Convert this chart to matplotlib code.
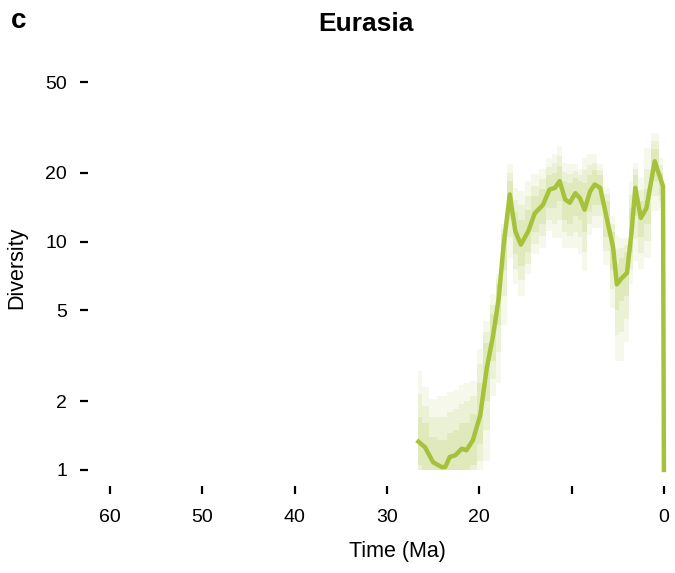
import matplotlib.pyplot as plt
from matplotlib.ticker import NullLocator

plt.rcParams['font.family'] = ['Liberation Sans', 'DejaVu Sans']

# time bins (Ma) and diversity estimates
time_ma = [26.6, 25.9, 25.0, 24.1, 23.7, 23.2, 22.6, 21.9, 21.4, 20.7,
           19.9, 19.2, 18.5, 17.9, 17.4, 16.7, 16.1, 15.5, 14.7, 14.0,
           13.1, 12.4, 11.8, 11.3, 10.7, 10.2, 9.6, 9.1, 8.6, 8.0,
           7.5, 6.9, 6.2, 5.5, 5.1, 4.6, 4.0, 3.5, 3.1, 2.5,
           1.9, 1.0, 0.1, 0.0]
diversity_median = [1.33, 1.26, 1.08, 1.03, 1.03, 1.14, 1.16, 1.24, 1.22, 1.35,
                    1.74, 2.78, 3.9, 5.65, 9.4, 16.1, 11.1, 9.7, 11.1, 13.3,
                    14.5, 16.9, 17.2, 18.4, 15.3, 14.8, 16.3, 15.5, 13.8, 16.6,
                    17.8, 17.2, 12.7, 9.4, 6.5, 6.9, 7.3, 11.1, 17.2, 12.7,
                    14.0, 22.5, 17.5, 1.0]

# uncertainty envelopes, widest to narrowest (no value for the last point)
outer_low = [1.0, 1.0, 1.0, 1.0, 1.0, 1.0, 1.0, 1.0, 1.0, 1.0,
             1.0, 1.1, 2.1, 2.4, 4.3, 8.5, 6.5, 5.8, 7.2, 8.8,
             9.4, 11.1, 10.4, 10.4, 9.4, 9.4, 9.4, 8.8, 7.4, 10.7,
             11.5, 11.5, 7.9, 5.1, 3.0, 3.0, 3.65, 6.5, 8.2, 7.6,
             8.5, 13.6, 14.0]
outer_high = [2.7, 2.3, 2.05, 2.1, 2.1, 2.2, 2.25, 2.35, 2.4, 2.45,
              3.4, 4.5, 5.9, 7.2, 12.0, 21.8, 17.2, 16.6, 18.4, 19.7,
              20.7, 23.3, 24.1, 26.2, 22.1, 21.8, 21.8, 20.7, 23.3, 24.1,
              24.1, 21.8, 17.2, 13.0, 10.7, 10.4, 10.4, 18.4, 22.1, 19.0,
              25.7, 29.9, 23.3]
mid_low = [1.0, 1.0, 1.0, 1.0, 1.0, 1.0, 1.0, 1.0, 1.0, 1.0,
           1.1, 1.5, 2.5, 3.3, 5.8, 10.5, 7.6, 6.8, 8.0, 9.8,
           10.6, 12.5, 12.0, 12.5, 11.0, 10.6, 11.0, 10.5, 9.0, 12.0,
           13.0, 13.0, 9.1, 6.2, 3.9, 4.0, 4.6, 7.6, 10.3, 8.9,
           10.1, 15.8, 15.0]
mid_high = [2.15, 1.9, 1.7, 1.7, 1.7, 1.8, 1.85, 1.95, 2.0, 2.1,
            2.9, 4.0, 5.3, 6.85, 11.4, 20.0, 15.2, 14.4, 15.9, 17.6,
            18.8, 21.3, 22.0, 23.7, 20.2, 19.8, 20.3, 19.5, 20.5, 21.7,
            22.2, 20.6, 16.1, 12.0, 9.3, 9.4, 9.7, 16.0, 20.7, 16.9,
            20.9, 27.6, 21.6]
inner_low = [1.05, 1.0, 1.0, 1.0, 1.0, 1.0, 1.0, 1.0, 1.0, 1.05,
             1.3, 2.0, 3.0, 4.3, 7.5, 12.5, 8.8, 7.8, 9.0, 11.0,
             12.0, 14.0, 14.0, 15.0, 12.5, 12.0, 13.0, 12.5, 11.0, 13.5,
             14.5, 14.5, 10.5, 7.5, 5.0, 5.5, 5.8, 9.0, 13.0, 10.5,
             12.0, 18.5, 16.0]
inner_high = [1.7, 1.6, 1.4, 1.35, 1.35, 1.45, 1.5, 1.6, 1.6, 1.75,
              2.4, 3.6, 4.8, 6.5, 10.8, 18.5, 13.5, 12.5, 13.8, 15.8,
              17.0, 19.5, 20.0, 21.5, 18.5, 18.0, 19.0, 18.5, 18.0, 19.5,
              20.5, 19.5, 15.0, 11.0, 8.0, 8.5, 9.0, 14.0, 19.5, 15.0,
              17.0, 25.5, 20.0]

x_ticks = [60, 50, 40, 30, 20, 10, 0]
x_tick_labels = ['60', '50', '40', '30', '20', '', '0']
y_ticks = [1, 2, 5, 10, 20, 50]
y_tick_labels = ['1', '2', '5', '10', '20', '50']

green = '#a6c23a'

fig = plt.figure(figsize=(6.75, 5.73), dpi=100)
ax = fig.add_axes([0.1304, 0.1527, 0.886, 0.7313])

band_time = time_ma[:-1]
for lo, hi, a in [(outer_low, outer_high, 0.10),
                  (mid_low, mid_high, 0.12),
                  (inner_low, inner_high, 0.16)]:
    ax.fill_between(band_time, lo, hi, step='mid',
                    color=green, alpha=a, linewidth=0)
ax.plot(time_ma, diversity_median, color=green, linewidth=3.2,
        solid_joinstyle='round')

ax.set_yscale('log')
ax.set_xlim(62.4, -2.4)
ax.set_ylim(0.855, 58.5)
ax.set_xticks(x_ticks)
ax.set_xticklabels(x_tick_labels)
ax.set_yticks(y_ticks)
ax.set_yticklabels(y_tick_labels)
ax.yaxis.set_minor_locator(NullLocator())
ax.tick_params(axis='both', length=6, width=1.6, labelsize=14, color='black')
ax.tick_params(axis='x', pad=11)
ax.tick_params(axis='y', pad=9)
for s in ax.spines.values():
    s.set_visible(False)

fig.text(366 / 675, 1 - 24 / 573, 'Eurasia', fontsize=19, fontweight='bold',
         ha='center', va='center')
fig.text(11 / 675, 1 - 21 / 573, 'c', fontsize=20, fontweight='bold',
         ha='left', va='center')
fig.text(397 / 675, 1 - 552 / 573, 'Time (Ma)', fontsize=15.5,
         ha='center', va='center')
fig.text(17 / 675, 1 - 268 / 573, 'Diversity', fontsize=15.5, rotation=90,
         ha='center', va='center')

fig.savefig('out.png', dpi=100)
